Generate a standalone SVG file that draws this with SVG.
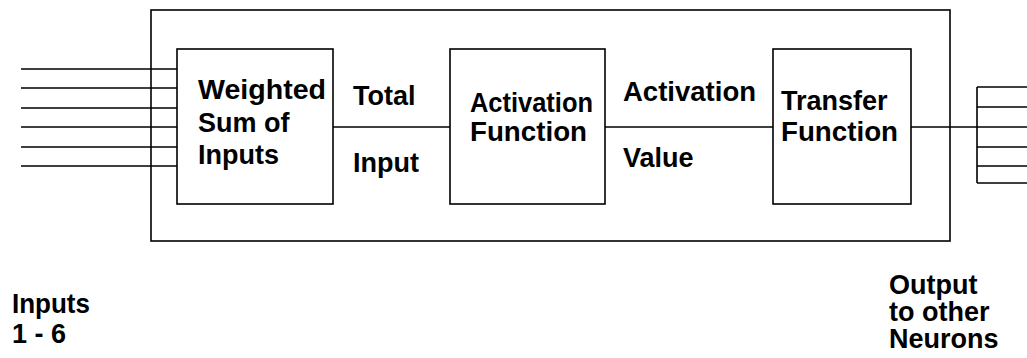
<svg xmlns="http://www.w3.org/2000/svg" width="1027" height="358" viewBox="0 0 1027 358">
<style>
.b{fill:#fff;stroke:#000;stroke-width:1.6}
.l{stroke:#000;stroke-width:1.6;fill:none}
text{font-family:"Liberation Sans",Arial,sans-serif;font-weight:bold;font-size:27px;fill:#000}
</style>
<rect width="1027" height="358" fill="#fff"/>
<g id="neuron"><rect class="b" x="151" y="10" width="799" height="231"/></g>
<g id="connectors">
<path class="l" d="M21 69H177M21 88H177M21 108H177M21 127H177M21 147H177M21 166H177"/>
<path class="l" d="M333 127H450M605 127H773M911 127H977"/>
<path class="l" d="M977 87V183M977 87H1027M977 107H1027M977 127H1027M977 147H1027M977 166H1027M977 183H1027"/>
</g>
<g id="weighted-sum"><rect class="b" x="177" y="49" width="156" height="155"/>
<text x="198" y="99" textLength="128" lengthAdjust="spacingAndGlyphs">Weighted</text><text x="198" y="132">Sum of</text><text x="198" y="164">Inputs</text></g>
<g id="activation-function"><rect class="b" x="450" y="49" width="155" height="155"/>
<text x="470" y="112" textLength="123" lengthAdjust="spacingAndGlyphs">Activation</text><text x="470" y="141" textLength="117" lengthAdjust="spacingAndGlyphs">Function</text></g>
<g id="transfer-function"><rect class="b" x="773" y="49" width="138" height="155"/>
<text x="781" y="110">Transfer</text><text x="781" y="141" textLength="117" lengthAdjust="spacingAndGlyphs">Function</text></g>
<g id="labels">
<text x="353" y="105">Total</text><text x="353" y="172">Input</text>
<text x="623" y="101" textLength="133" lengthAdjust="spacingAndGlyphs">Activation</text><text x="623" y="167">Value</text>
<text x="12" y="313" textLength="78" lengthAdjust="spacingAndGlyphs">Inputs</text><text x="12" y="343">1 - 6</text>
<text x="889" y="294">Output</text><text x="889" y="321">to other</text><text x="889" y="348">Neurons</text>
</g>
</svg>
